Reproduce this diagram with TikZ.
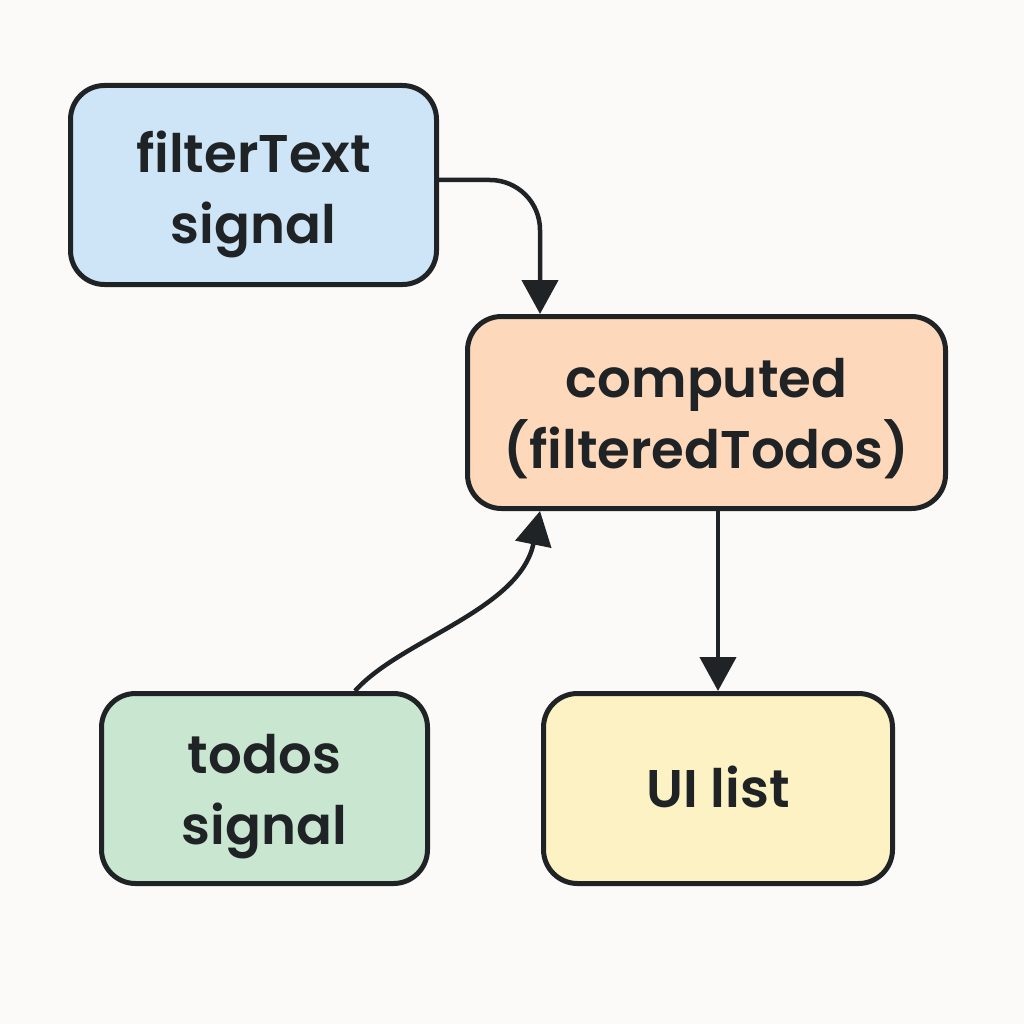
\documentclass[tikz,border=0pt]{standalone}
\usepackage{fontspec}
\setmainfont{Poppins}[BoldFont={Poppins SemiBold}]
\usetikzlibrary{arrows.meta}
\definecolor{bg}{HTML}{FBFAF8}
\definecolor{ink}{HTML}{1F2326}
\definecolor{cblue}{HTML}{CDE5F6}
\definecolor{corange}{HTML}{FDD8BA}
\definecolor{cgreen}{HTML}{C9E6D0}
\definecolor{cyellow}{HTML}{FDF2C3}
\newcommand{\boxtext}[2][-9pt]{\raisebox{#1}[\height][\depth]{\begin{tabular}{@{}c@{}}#2\end{tabular}}}
\tikzset{
  box/.style={draw=ink, line width=5pt, rounded corners=34pt, inner sep=0pt,
    text=ink, font=\fontsize{53}{71}\selectfont\bfseries},
  conn/.style={draw=ink, line width=4.5pt, -{Triangle[length=34pt,width=36pt]}}
}
\begin{document}
\begin{tikzpicture}[x=1pt,y=-1pt]
\fill[bg] (0,0) rectangle (1024,1024);
\useasboundingbox (0,0) rectangle (1024,1024);
\node[box, fill=cblue, minimum width=366pt, minimum height=199pt] (ft) at (253.5,185) {\boxtext{filterText\\signal}};
\node[box, fill=corange, minimum width=478pt, minimum height=192pt] (cp) at (706.5,412.5) {\boxtext[-6pt]{computed\\(filteredTodos)}};
\node[box, fill=cgreen, minimum width=326pt, minimum height=190pt] (td) at (264.5,788.5) {\boxtext[-6pt]{todos\\signal}};
\node[box, fill=cyellow, minimum width=349pt, minimum height=190pt] (ui) at (718,788.5) {\boxtext[-5pt]{UI list}};
\draw[conn, rounded corners=50pt] (ft.east |- 0,180) -- (540,180) -- (540,180 |- cp.north);
\draw[conn] (td.north -| 355,0) .. controls (400,640) and (520,610) .. (cp.south -| 540,0);
\draw[conn] (cp.south -| 718,0) -- (ui.north -| 718,0);
\end{tikzpicture}
\end{document}
